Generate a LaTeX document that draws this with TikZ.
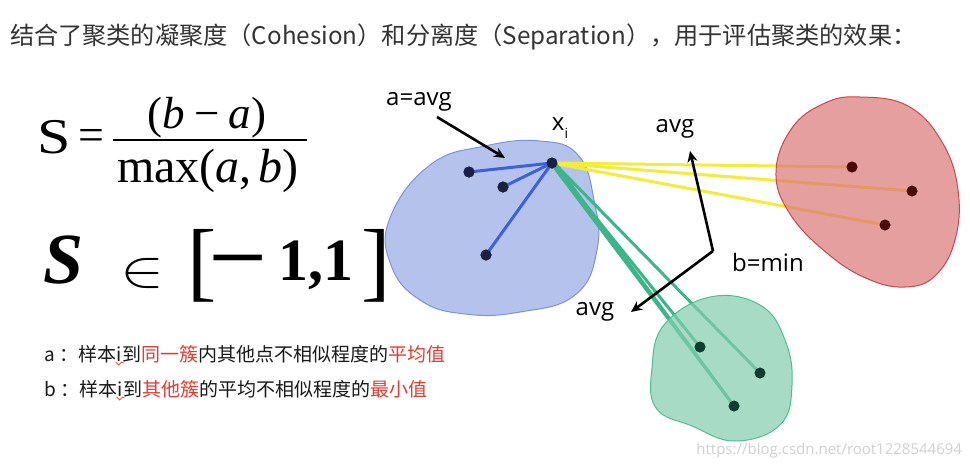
\documentclass[tikz,border=0pt]{standalone}
\usepackage{fontspec}
\usetikzlibrary{arrows.meta}
\newfontfamily\cjk{Noto Sans CJK SC}
\newfontfamily\tms{Liberation Serif}
\newfontfamily\hand{Open Sans}
\definecolor{titlec}{HTML}{333333}
\definecolor{hl}{HTML}{E8392E}
\definecolor{bfill}{HTML}{B5C3EC}
\definecolor{bline}{HTML}{7B93DC}
\definecolor{bseg}{HTML}{3C62D9}
\definecolor{bdot}{HTML}{1A2040}
\definecolor{rfill}{HTML}{DB7777}
\definecolor{rline}{HTML}{C9474A}
\definecolor{rdot}{HTML}{4A0A0A}
\definecolor{gfill}{HTML}{83CDAE}
\definecolor{gline}{HTML}{4CBF94}
\definecolor{gseg}{HTML}{3DB58A}
\definecolor{gdot}{HTML}{0F3D30}
\definecolor{yseg}{HTML}{F3EC3A}
\tikzset{
  txt/.style={inner sep=0pt, outer sep=0pt},
  cjkline/.style={txt, anchor=base west, font=\fontsize{19}{19}\selectfont\cjk, text=black!90},
  handlbl/.style={txt, font=\fontsize{24}{24}\selectfont\hand, text=black},
  dot/.style={circle, inner sep=0pt, minimum size=11pt},
  seg/.style={line width=3pt, line cap=round},
  blackarrow/.style={line width=2.6pt, -{Stealth[length=11pt,width=10pt]}},
  blob/.style={line width=1pt}
}
\begin{document}
\begin{tikzpicture}[x=1pt,y=-1pt]
\useasboundingbox (0,0) rectangle (970,469);
\fill[white] (0,0) rectangle (970,469);

% title
\node[txt, anchor=west, text=titlec] (title) at (10,37)
  {\fontsize{24.2}{24.2}\selectfont\cjk 结合了聚类的凝聚度（Cohesion）和分离度（Separation），用于评估聚类的效果：};

% formula 1
\node[txt] (S1) at (54,137) {\scalebox{1.2}[1]{\fontsize{50}{50}\selectfont\tms S}};
\node[txt] (eq1) at (91,140) {\fontsize{46}{46}\selectfont\tms =};
\coordinate (barL) at (113,140);
\coordinate (barR) at (307,140);
\draw[line width=1.6pt] (barL) -- (barR);
\node[txt] (num) at (207,118) {\fontsize{45}{45}\selectfont\tms (\textit{b}\hspace{0.2em}−\hspace{0.2em}\textit{a})};
\node[txt] (den) at (208,171) {\fontsize{48}{48}\selectfont\tms max(\textit{a},\hspace{0.14em}\textit{b})};

% formula 2
\node[txt] (S2) at (64,260) {\fontsize{72}{72}\selectfont\tms\bfseries\itshape S};
\node[txt] (in2) at (142,273) {\scalebox{6.6}[5.2]{$\in$}};
\node[txt] (lb) at (202,266) {\fontsize{88}{88}\selectfont\tms [};
\node[txt] (mn) at (238,270) {\scalebox{1.3}[1]{\fontsize{80}{80}\selectfont\tms\bfseries −}};
\node[txt] (oo) at (316,265) {\fontsize{60}{60}\selectfont\tms\bfseries 1,1};
\node[txt] (rb) at (376,266) {\fontsize{88}{88}\selectfont\tms ]};

% bottom explanation lines
\node[cjkline] (la1) at (45,361) {a ：样本};
\node[cjkline] (la2) at (la1.base east) {i};
\node[cjkline] (la3) at (la2.base east) {到\textcolor{hl}{同一簇}内其他点不相似程度的\textcolor{hl}{平均值}};
\node[cjkline] (lb1) at (45,396) {b ：样本};
\node[cjkline] (lb2) at (lb1.base east) {i};
\node[cjkline] (lb3) at (lb2.base east) {到\textcolor{hl}{其他簇}的平均不相似程度的\textcolor{hl}{最小值}};
\draw[hl, line width=0.7pt] ([shift={(-4,1)}]la2.south) -- ++(3,3) -- ++(3,-3) -- ++(2,1);
\draw[hl, line width=0.7pt] ([shift={(-4,1)}]lb2.south) -- ++(3,3) -- ++(3,-3) -- ++(2,1);

% blue cluster
\draw[blob, draw=bline, fill=bfill] plot[smooth cycle, tension=0.75] coordinates
  {(540,141) (578,155) (594,200) (597,250) (575,295) (520,312) (465,314) (420,300) (391,265) (390,218) (430,165) (485,146)};

% points
\node[dot, fill=bdot] (xi) at (552,163) {};
\node[dot, fill=bdot] (b1) at (469,172) {};
\node[dot, fill=bdot] (b2) at (503,187) {};
\node[dot, fill=bdot] (b3) at (486,255) {};
\node[dot, fill=rdot] (r1) at (852,167) {};
\node[dot, fill=rdot] (r2) at (912,191) {};
\node[dot, fill=rdot] (r3) at (885,225) {};
\node[dot, fill=gdot] (g1) at (700,347) {};
\node[dot, fill=gdot] (g2) at (760,373) {};
\node[dot, fill=gdot] (g3) at (734,406) {};

% connectors
\draw[seg, yseg] (xi.center) -- (r1.center);
\draw[seg, yseg] (xi.center) -- (r2.center);
\draw[seg, yseg] (xi.center) -- (r3.center);
\draw[seg, gseg] (xi.center) -- (g1.center);
\draw[seg, gseg] ([xshift=2pt]xi.center) -- (g2.center);
\draw[seg, gseg] ([xshift=-1pt]xi.center) -- (g3.center);
\draw[seg, gseg] ([xshift=3pt]xi.center) -- (g3.center);
\draw[seg, bseg] (xi.center) -- (b1.center);
\draw[seg, bseg] (xi.center) -- (b2.center);
\draw[seg, bseg] (xi.center) -- (b3.center);

% red cluster
\draw[blob, draw=rline, fill=rfill, fill opacity=0.7] plot[smooth cycle, tension=0.7] coordinates
  {(860,97) (908,106) (942,142) (958,190) (955,240) (935,276) (905,287) (868,279) (828,254) (790,214) (776,172) (792,128) (825,103)};
% green cluster
\draw[blob, draw=gline, fill=gfill, fill opacity=0.7] plot[smooth cycle, tension=0.7] coordinates
  {(710,297) (760,305) (785,340) (792,385) (780,425) (735,441) (692,426) (656,408) (652,368) (664,325)};

% redraw dots on top
\foreach \p/\c in {r1/rdot,r2/rdot,r3/rdot,g1/gdot,g2/gdot,g3/gdot,xi/bdot,b1/bdot,b2/bdot,b3/bdot}
  \fill[\c] (\p) circle (5.5pt);

% labels
\node[handlbl] (aavg) at (419,102) {a=avg};
\node[handlbl] (xlbl) at (560,128) {x\raisebox{-0.35em}{\fontsize{14}{14}\selectfont i}};
\node[handlbl] (avgtop) at (675,129) {avg};
\node[handlbl] (bmin) at (768,262) {b=min};
\node[handlbl] (avgbot) at (595,312) {avg};
\coordinate (corner) at (713,251);
\coordinate (tailA) at (437,117);
\coordinate (tipA) at (505,158);
\coordinate (tipB) at (690,151);
\coordinate (tipC) at (631,312);
\draw[blackarrow] (tailA) -- (tipA);
\draw[blackarrow] (corner) -- (tipB);
\draw[blackarrow] (corner) -- (tipC);

% watermark
\node[txt, anchor=east, text=black!18] (wm) at (962,451) {\fontsize{15}{15}\selectfont\hand https://blog.csdn.net/root1228544694};
\end{tikzpicture}
\end{document}
